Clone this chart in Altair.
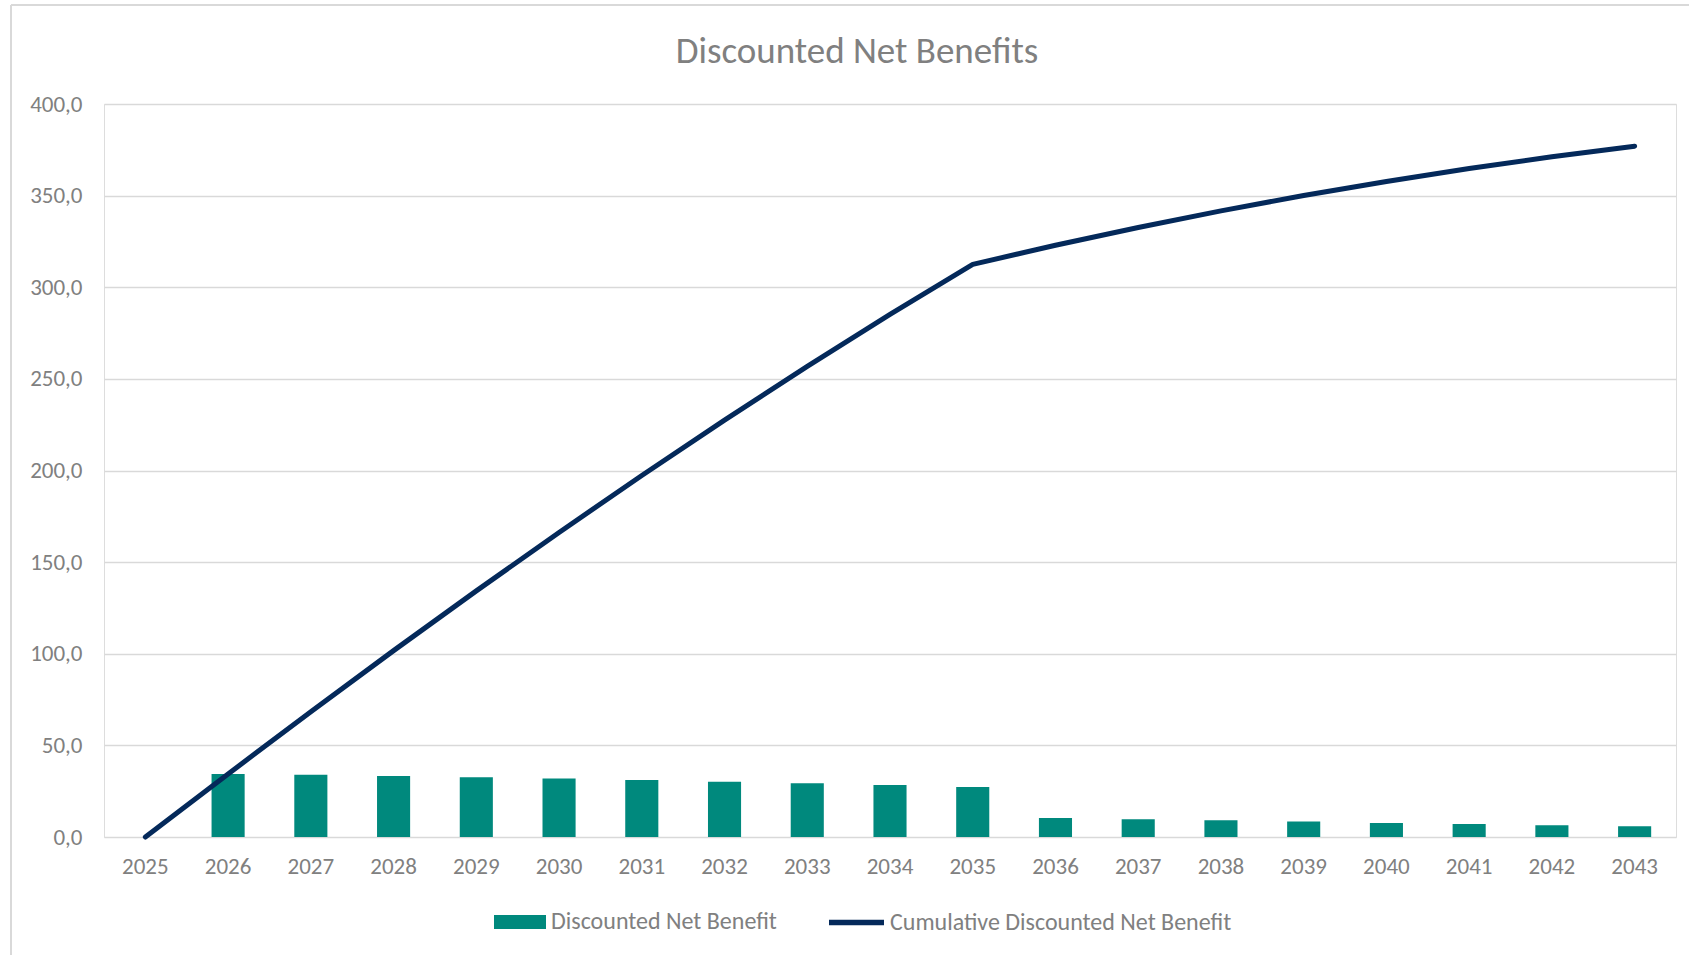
import altair as alt
import pandas as pd

years = ["2025", "2026", "2027", "2028", "2029", "2030", "2031", "2032", "2033", "2034",
         "2035", "2036", "2037", "2038", "2039", "2040", "2041", "2042", "2043"]
benefit = [0.0, 34.4, 34.0, 33.3, 32.6, 31.9, 31.1, 30.2, 29.3, 28.4,
           27.3, 10.4, 9.7, 9.1, 8.4, 7.6, 7.1, 6.4, 5.8]
cumulative = [0.0, 34.4, 68.4, 101.7, 134.3, 166.2, 197.3, 227.5, 256.8, 285.2,
              312.5, 322.9, 332.6, 341.7, 350.1, 357.7, 364.8, 371.2, 377.0]
y_ticks = [0, 50, 100, 150, 200, 250, 300, 350, 400]
bar_name = "Discounted Net Benefit"
line_name = "Cumulative Discounted Net Benefit"

df = pd.DataFrame({"Year": years, "Benefit": benefit, "Cumulative": cumulative,
                   "s1": bar_name, "s2": line_name})

FONT = "Carlito, Calibri, 'Open Sans', sans-serif"
GRAY = "#808080"
TEAL = "#00897D"
NAVY = "#04295A"
FS = 23
LFS = 24

x_enc = alt.X("Year:N", sort=years,
              scale=alt.Scale(paddingInner=0, paddingOuter=0),
              axis=alt.Axis(title=None, labelAngle=0, labelFont=FONT, labelFontSize=FS,
                            labelColor=GRAY, labelPadding=18, domain=False, ticks=False,
                            grid=False))

y_axis = alt.Axis(title=None, values=y_ticks,
                  labelExpr="replace(format(datum.value, '.1f'), '.', ',')",
                  grid=True, gridColor="#d9d9d9", gridWidth=1.5, domain=False, ticks=False,
                  labelPadding=22, labelFont=FONT, labelFontSize=FS, labelColor=GRAY)

base = alt.Chart(df)

bars = base.mark_bar(width={"band": 0.4}).encode(
    x=x_enc,
    y=alt.Y("Benefit:Q", scale=alt.Scale(domain=[0, 400], nice=False), axis=y_axis),
    fill=alt.Fill("s1:N", scale=alt.Scale(domain=[bar_name], range=[TEAL]),
                  legend=alt.Legend(title=None, orient="none", legendX=390, legendY=792,
                                    symbolType="M-1,-0.27H1V0.27H-1Z", symbolSize=2704,
                                    symbolStrokeWidth=0, symbolOpacity=1, labelOffset=5,
                                    labelFont=FONT, labelFontSize=LFS, labelColor=GRAY,
                                    labelLimit=0, padding=0)),
)

line = base.mark_line(strokeWidth=5, strokeCap="round", strokeJoin="round").encode(
    x=x_enc,
    y=alt.Y("Cumulative:Q"),
    stroke=alt.Stroke("s2:N", scale=alt.Scale(domain=[line_name], range=[NAVY]),
                      legend=alt.Legend(title=None, orient="none", legendX=722, legendY=788,
                                        symbolType="stroke", symbolSize=3025,
                                        symbolStrokeWidth=5.5, labelOffset=3,
                                        labelFont=FONT, labelFontSize=LFS, labelColor=GRAY,
                                        labelLimit=0, padding=0)),
)

frame_data = alt.Data(values=[{"k": 1}])
border_left = alt.Chart(frame_data).mark_rule(color="#d9d9d9", strokeWidth=2).encode(
    x=alt.value(-93), y=alt.value(-99), y2=alt.value(900))
border_top = alt.Chart(frame_data).mark_rule(color="#d9d9d9", strokeWidth=2).encode(
    x=alt.value(-93), x2=alt.value(1700), y=alt.value(-99))

chart = alt.layer(border_left, border_top, bars, line).properties(
    width=1572, height=733,
    title=alt.Title("Discounted Net Benefits", font=FONT, fontSize=37, fontWeight="normal",
                    color=GRAY, anchor="middle", frame="group", dx=-33, offset=0,
                    baseline="middle", dy=85),
    autosize=alt.AutoSizeParams(type="none"),
    padding={"left": 104, "top": 104, "right": 13, "bottom": 118},
).configure_view(stroke=None).configure(background="white")

chart.save("out.html", embed_options={"renderer": "svg", "actions": False})
